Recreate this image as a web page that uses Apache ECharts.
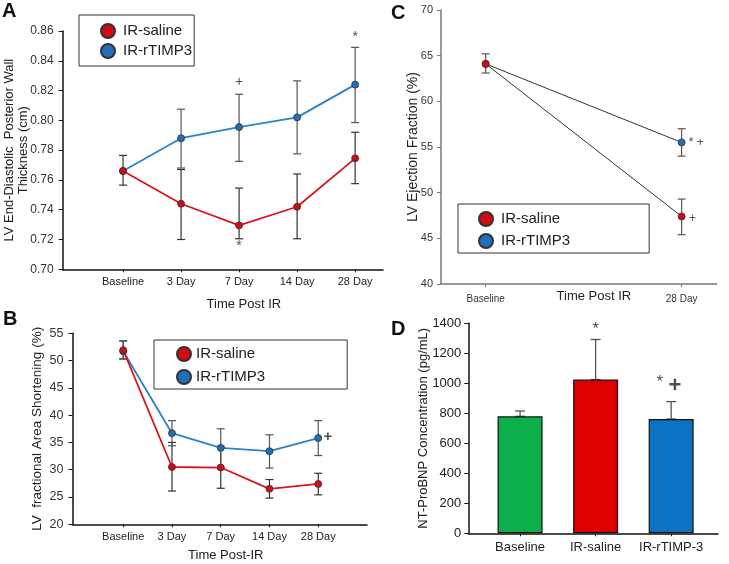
<!DOCTYPE html>
<html><head><meta charset="utf-8">
<script src="https://cdn.jsdelivr.net/npm/echarts@6/dist/echarts.min.js"></script>
<style>html,body{margin:0;padding:0;background:#fff}#c{width:729px;height:564px}</style>
</head><body><div id="c"></div>
<script>
// ---------- data ----------
const timeCats = ['Baseline', '3 Day', '7 Day', '14 Day', '28 Day'];
const seriesNames = ['IR-saline', 'IR-rTIMP3'];

// Panel A: LV end-diastolic posterior wall thickness (cm)
const aSaline = [0.766, 0.744, 0.7295, 0.742, 0.7745];
const aSalineLow = [0.7565, 0.720, 0.7205, 0.7205, 0.7575];
const aSalineHigh = [0.7765, 0.767, 0.7545, 0.764, 0.792];
const aTimp = [0.766, 0.788, 0.7955, 0.802, 0.824];
const aTimpLow = [null, 0.768, 0.7725, 0.7775, 0.7985];
const aTimpHigh = [null, 0.8075, 0.8175, 0.8265, 0.849];
const aNotes = [[2, 0.8255, '+'], [2, 0.7155, '*'], [4, 0.856, '*']];

// Panel B: LV fractional area shortening (%)
const bSaline = [51.9, 30.5, 30.4, 26.5, 27.4];
const bSalineLow = [50.3, 26.1, 26.6, 24.8, 25.4];
const bSalineHigh = [53.6, 35.0, 34.3, 28.2, 29.35];
const bTimp = [51.7, 36.7, 34.0, 33.4, 35.8];
const bTimpLow = [50.3, 34.4, 30.4, 30.3, 32.6];
const bTimpHigh = [53.6, 39.0, 37.5, 36.4, 39.0];
const bNotes = [[4.2, 36.0, '+']];

// Panel C: LV ejection fraction (%)
const cCats = ['Baseline', '28 Day'];
const cSaline = [64.1, 47.4];
const cSalineLow = [63.1, 45.4];
const cSalineHigh = [65.2, 49.3];
const cTimp = [64.1, 55.5];
const cTimpLow = [null, 54.0];
const cTimpHigh = [null, 57.0];
const cNotes = [[1.075, 55.5, '* +'], [1.055, 47.2, '+']];

// Panel D: NT-ProBNP concentration (pg/mL)
const dCats = ['Baseline', 'IR-saline', 'IR-rTIMP-3'];
const dValues = [780, 1025, 762];
const dErrHigh = [815, 1292, 878];
const dStarNotes = [[1, 1360, '*'], [1.85, 1005, '*']];
const dPlusNotes = [[2.05, 985, '+']];

// ---------- styles ----------
const FONT = 'Liberation Sans, Arial, Helvetica, sans-serif';
const RED = '#d8161f', BLUE = '#2a83c8';
const RED_M = '#d20a12', BLUE_M = '#1f6fba';
const BAR_COLORS = ['#0cb04a', '#e00000', '#0b72c4'];

function pairs(arr) { return arr.map((v, i) => [i, v]); }
function errData(lo, hi) {
  const out = [];
  lo.forEach((l, i) => { if (l != null) out.push([i, l, hi[i]]); });
  return out;
}
function errSeries(xi, data, color, capHalf, width, z) {
  return {
    type: 'custom', xAxisIndex: xi, yAxisIndex: xi, z: z || 1, silent: true,
    data: data,
    renderItem: function (params, api) {
      const x = api.value(0);
      const p1 = api.coord([x, api.value(1)]);
      const p2 = api.coord([x, api.value(2)]);
      const st = { stroke: color, lineWidth: width };
      return {
        type: 'group', children: [
          { type: 'line', shape: { x1: p1[0], y1: p1[1], x2: p2[0], y2: p2[1] }, style: st },
          { type: 'line', shape: { x1: p1[0] - capHalf, y1: p1[1], x2: p1[0] + capHalf, y2: p1[1] }, style: st },
          { type: 'line', shape: { x1: p2[0] - capHalf, y1: p2[1], x2: p2[0] + capHalf, y2: p2[1] }, style: st }
        ]
      };
    }
  };
}
function lineSeries(name, xi, vals, lineColor, markColor, lw, z) {
  return {
    name: name, type: 'line', xAxisIndex: xi, yAxisIndex: xi, z: z,
    data: pairs(vals), symbol: 'circle', symbolSize: 7,
    lineStyle: { color: lineColor, width: lw },
    itemStyle: { color: markColor, borderColor: '#333', borderWidth: 0.8 },
    emphasis: { disabled: true }, animation: false
  };
}
function noteSeries(xi, notes, size, bold) {
  return {
    type: 'scatter', xAxisIndex: xi, yAxisIndex: xi, silent: true, z: 20,
    symbolSize: 1, itemStyle: { color: 'rgba(0,0,0,0)' },
    data: notes,
    label: {
      show: true, position: 'inside', color: '#222', fontFamily: FONT,
      fontSize: size, fontWeight: bold ? 'bold' : 'normal',
      formatter: p => p.value[2]
    }
  };
}
function xAxisDef(idx, min, max, cats, opts) {
  const ticks = cats.map((c, i) => i);
  return Object.assign({
    type: 'value', gridIndex: idx, min: min, max: max,
    splitLine: { show: false },
    axisLine: { show: true, onZero: false, lineStyle: { color: '#111', width: 1.5 } },
    axisTick: { show: true, customValues: ticks, length: 3, lineStyle: { color: '#111' } },
    axisLabel: {
      customValues: ticks, formatter: v => cats[Math.round(v)],
      fontFamily: FONT, fontSize: 11, color: '#222', margin: 7
    },
    nameLocation: 'middle', nameMoveOverlap: false
  }, opts || {});
}
function yAxisDef(idx, min, max, interval, opts) {
  return Object.assign({
    type: 'value', gridIndex: idx, min: min, max: max, interval: interval,
    splitLine: { show: false },
    axisLine: { show: true, onZero: false, lineStyle: { color: '#111', width: 1.5 } },
    axisTick: { show: true, length: 4, lineStyle: { color: '#111' } },
    axisLabel: { fontFamily: FONT, fontSize: 12, color: '#333', margin: 9 },
    nameLocation: 'middle', nameRotate: 90, nameMoveOverlap: false
  }, opts || {});
}
function legendDef(left, top, padding, gap, textPad) {
  return {
    data: seriesNames, orient: 'vertical', left: left, top: top,
    padding: padding, itemGap: gap, itemWidth: 14, itemHeight: 14,
    icon: 'circle', borderColor: '#333', borderWidth: 1,
    selectedMode: false,
    textStyle: { fontFamily: FONT, fontSize: 15, color: '#222', padding: [0, 0, 0, textPad] }
  };
}

const chart = echarts.init(document.getElementById('c'), null, { renderer: 'canvas' });
const option = {
  animation: false,
  textStyle: { fontFamily: FONT },
  grid: [
    { left: 62.7, top: 31, width: 320.3, height: 238.3 },
    { left: 72.5, top: 333.3, width: 294.5, height: 191 },
    { left: 441, top: 10, width: 275.7, height: 274 },
    { left: 468.3, top: 323.3, width: 249.7, height: 210 }
  ],
  xAxis: [
    xAxisDef(0, -1.04, 4.48, timeCats, {
      name: 'Time Post IR', nameGap: 29,
      nameTextStyle: { fontFamily: FONT, fontSize: 13, color: '#222', padding: [0, 0, 0, 42] }
    }),
    xAxisDef(1, -1.04, 5.0, timeCats, {
      name: 'Time Post-IR', nameGap: 25,
      nameTextStyle: { fontFamily: FONT, fontSize: 13, color: '#222', padding: [0, 0, 0, 12] }
    }),
    xAxisDef(2, -0.228, 1.179, cCats, {
      name: 'Time Post IR', nameGap: 6,
      axisLine: { show: true, onZero: false, lineStyle: { color: '#777', width: 1.5 } },
      axisTick: { show: true, customValues: [0, 1], length: 3, lineStyle: { color: '#777' } },
      axisLabel: { customValues: [0, 1], formatter: v => cCats[Math.round(v)], fontFamily: FONT, fontSize: 10, color: '#333', margin: 10 },
      nameTextStyle: { fontFamily: FONT, fontSize: 13, color: '#222', padding: [0, 0, 0, 30] }
    }),
    xAxisDef(3, -0.685, 2.62, dCats, {
      axisLabel: { customValues: [0, 1, 2], formatter: v => dCats[Math.round(v)], fontFamily: FONT, fontSize: 13, color: '#222', margin: 8 }
    })
  ],
  yAxis: [
    yAxisDef(0, 0.70, 0.86, 0.02, {
      name: 'LV End-Diastolic  Posterior Wall\nThickness (cm)', nameGap: 32,
      axisLabel: { fontFamily: FONT, fontSize: 12, color: '#333', margin: 9, formatter: v => v.toFixed(2) },
      nameTextStyle: { fontFamily: FONT, fontSize: 13, color: '#222', lineHeight: 14 }
    }),
    yAxisDef(1, 20, 55, 5, {
      name: 'LV  fractional Area Shortening (%)', nameGap: 28,
      axisLabel: { fontFamily: FONT, fontSize: 12.5, color: '#333', margin: 9 },
      nameTextStyle: { fontFamily: FONT, fontSize: 13.5, color: '#222' }
    }),
    yAxisDef(2, 40, 70, 5, {
      name: 'LV Ejection Fraction (%)', nameGap: 21,
      axisLine: { show: true, onZero: false, lineStyle: { color: '#777', width: 1.5 } },
      axisTick: { show: true, length: 4, lineStyle: { color: '#777' } },
      axisLabel: { fontFamily: FONT, fontSize: 11, color: '#333', margin: 8 },
      nameTextStyle: { fontFamily: FONT, fontSize: 14, color: '#222' }
    }),
    yAxisDef(3, 0, 1400, 200, {
      name: 'NT-ProBNP Concentration (pg/mL)', nameGap: 38,
      axisLabel: { fontFamily: FONT, fontSize: 13, color: '#222', margin: 7, formatter: v => String(v) },
      nameTextStyle: { fontFamily: FONT, fontSize: 13, color: '#222' }
    })
  ],
  legend: [
    legendDef(79, 15, [8, 2, 7, 21], 4, 3),
    legendDef(154, 340, [6, 82, 4, 22], 7, 0),
    legendDef(458, 204, [7, 79, 4, 20], 6, 3)
  ],
  graphic: [
    { type: 'text', left: 2, top: 1, style: { text: 'A', font: 'bold 20px ' + FONT, fill: '#111' } },
    { type: 'text', left: 3, top: 309, style: { text: 'B', font: 'bold 20px ' + FONT, fill: '#111' } },
    { type: 'text', left: 391, top: 3, style: { text: 'C', font: 'bold 20px ' + FONT, fill: '#111' } },
    { type: 'text', left: 391, top: 319, style: { text: 'D', font: 'bold 20px ' + FONT, fill: '#111' } }
  ],
  series: [
    // A
    errSeries(0, errData(aSalineLow, aSalineHigh), '#333', 4, 1.2, 2),
    errSeries(0, errData(aTimpLow, aTimpHigh), '#555', 4, 1.2, 2),
    lineSeries('IR-rTIMP3', 0, aTimp, BLUE, BLUE_M, 1.8, 5),
    lineSeries('IR-saline', 0, aSaline, RED, RED_M, 1.8, 6),
    noteSeries(0, aNotes, 14, false),
    // B
    errSeries(1, errData(bSalineLow, bSalineHigh), '#333', 4, 1.2, 2),
    errSeries(1, errData(bTimpLow, bTimpHigh), '#555', 4, 1.2, 2),
    lineSeries('IR-rTIMP3', 1, bTimp, BLUE, BLUE_M, 1.8, 5),
    lineSeries('IR-saline', 1, bSaline, RED, RED_M, 1.8, 6),
    noteSeries(1, bNotes, 15, true),
    // C
    errSeries(2, errData(cSalineLow, cSalineHigh), '#6a5050', 4, 1.2, 2),
    errSeries(2, errData(cTimpLow, cTimpHigh), '#6a5050', 4, 1.2, 2),
    lineSeries('IR-rTIMP3', 2, cTimp, '#333', BLUE_M, 1, 5),
    lineSeries('IR-saline', 2, cSaline, '#333', RED_M, 1, 6),
    noteSeries(2, cNotes, 12, false),
    // D
    errSeries(3, dValues.map((v, i) => [i, v, dErrHigh[i]]), '#555', 5, 1.3, 1),
    {
      type: 'bar', xAxisIndex: 3, yAxisIndex: 3, barWidth: 45, z: 3,
      data: dValues.map((v, i) => ({ value: [i, v], itemStyle: { color: BAR_COLORS[i] } })),
      itemStyle: { borderColor: '#111', borderWidth: 1.2 }
    },
    noteSeries(3, dStarNotes, 17, false),
    noteSeries(3, dPlusNotes, 22, true)
  ]
};
chart.setOption(option);
</script>
</body></html>
